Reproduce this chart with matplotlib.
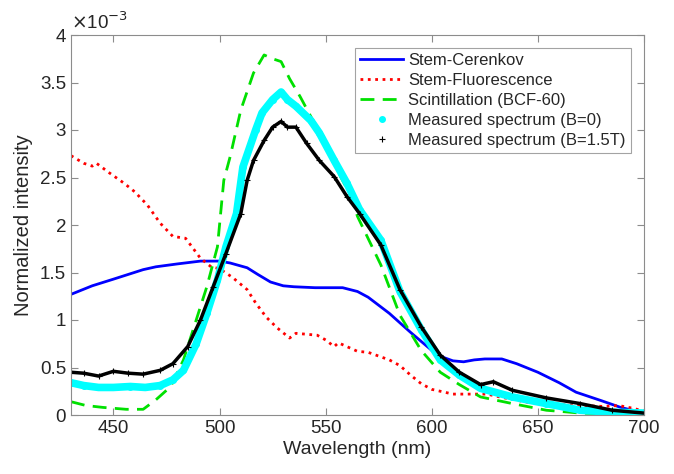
import numpy as np
import matplotlib
matplotlib.use('Agg')
from matplotlib import pyplot as plt
from matplotlib.ticker import FuncFormatter

# values in units of 1e-3
cer_nm = [430, 440, 450, 464, 470, 480, 491, 500, 505, 513, 518, 524, 530, 535, 545, 558,
          565, 570, 580, 590, 600, 605, 610, 615, 620, 625, 633, 640, 650, 660, 668, 680, 689, 700]
cer_val = [1.27, 1.36, 1.43, 1.53, 1.56, 1.59, 1.62, 1.62, 1.60, 1.55, 1.48, 1.40, 1.36, 1.35, 1.34, 1.34,
           1.30, 1.24, 1.07, 0.87, 0.68, 0.61, 0.57, 0.56, 0.58, 0.59, 0.59, 0.54, 0.45, 0.34, 0.24, 0.15, 0.08, 0.02]

flu_nm = [430, 436, 440, 442, 448, 455, 460, 466, 472, 478, 484, 491, 496, 500, 506, 513, 517, 522, 527,
          533, 536, 546, 550, 554, 556, 565, 570, 575, 580, 585, 590, 595, 600, 610, 618, 626, 632,
          646, 660, 670, 681, 688, 695, 700]
flu_val = [2.73, 2.65, 2.62, 2.65, 2.55, 2.44, 2.35, 2.21, 2.02, 1.88, 1.86, 1.65, 1.56, 1.54, 1.45, 1.32, 1.18,
           1.03, 0.92, 0.81, 0.86, 0.84, 0.79, 0.72, 0.76, 0.67, 0.66, 0.62, 0.58, 0.52, 0.42, 0.33, 0.27,
           0.22, 0.22, 0.22, 0.19, 0.13, 0.11, 0.10, 0.09, 0.10, 0.07, 0.04]

sci_nm = [430, 437, 445, 456, 464, 470, 477, 483, 489, 494, 499, 502, 505, 510, 516, 521, 525, 529,
          533, 538, 544, 549, 552, 557, 562, 565, 576, 585, 595, 604, 613, 623, 638, 654, 670, 685, 700]
sci_val = [0.14, 0.10, 0.08, 0.06, 0.06, 0.16, 0.30, 0.58, 1.00, 1.35, 1.77, 2.47, 2.72, 3.21, 3.60, 3.79,
           3.75, 3.72, 3.54, 3.35, 3.10, 2.93, 2.76, 2.51, 2.30, 2.09, 1.58, 1.05, 0.68, 0.45, 0.32, 0.19,
           0.12, 0.05, 0.02, 0.01, 0.00]

b0_nm = [430, 436, 443, 450, 458, 465, 472, 478, 483, 489, 494, 499, 503, 508, 511, 517, 520, 525,
         529, 532, 536, 543, 547, 554, 560, 566, 576, 585, 595, 604, 613, 623, 638, 654, 670, 685, 700]
b0_val = [0.34, 0.31, 0.29, 0.29, 0.30, 0.29, 0.31, 0.37, 0.47, 0.75, 1.07, 1.42, 1.77, 2.12, 2.61, 3.00,
          3.18, 3.32, 3.40, 3.32, 3.25, 3.10, 2.97, 2.68, 2.44, 2.16, 1.84, 1.30, 0.90, 0.58, 0.42, 0.28,
          0.19, 0.12, 0.05, 0.03, 0.02]

b15_nm = [430, 436, 443, 450, 457, 464, 472, 478, 485, 491, 497, 503, 510, 513, 516, 521, 525, 529,
          532, 536, 541, 547, 554, 560, 566, 576, 585, 595, 604, 613, 623, 629, 638, 654, 670, 685, 700]
b15_val = [0.45, 0.44, 0.41, 0.46, 0.44, 0.43, 0.47, 0.54, 0.72, 1.00, 1.35, 1.70, 2.12, 2.47, 2.68, 2.89,
           3.03, 3.09, 3.03, 3.03, 2.86, 2.68, 2.51, 2.30, 2.12, 1.79, 1.32, 0.93, 0.63, 0.45, 0.32, 0.35,
           0.26, 0.18, 0.12, 0.05, 0.02]

plt.rcParams['font.family'] = ['Liberation Sans', 'DejaVu Sans']
txt = '#262626'
spine = '#8c8c8c'

fig = plt.figure(figsize=(6.74, 4.74), dpi=100)
ax = fig.add_axes([71/674, 1-415/474, 573/674, 380/474])

ax.plot(cer_nm, cer_val, '-', color='#0000ff', lw=2, label='Stem-Cerenkov')
ax.plot(flu_nm, flu_val, ':', color='#ff0000', lw=2, label='Stem-Fluorescence')
ax.plot(sci_nm, sci_val, '--', color='#00e000', lw=2, dashes=(5, 3), label='Scintillation (BCF-60)')
ax.plot(b0_nm, b0_val, '-', color='#00ffff', lw=5.5, solid_capstyle='round')
ax.plot(b0_nm, b0_val, 'o', color='#00ffff', ms=4, linestyle='none', label='Measured spectrum (B=0)')
ax.plot(b15_nm, b15_val, '-', color='black', lw=2.5)
ax.plot(b15_nm, b15_val, '+', color='black', ms=5, mew=0.8, linestyle='none',
        label='Measured spectrum (B=1.5T)')

ax.set_xlim(430, 700)
ax.set_ylim(0, 4)
ax.set_xticks(np.arange(450, 701, 50))
ax.set_yticks(np.arange(0, 4.01, 0.5))
ax.yaxis.set_major_formatter(FuncFormatter(lambda v, p: '%g' % v))
ax.tick_params(direction='in', length=5, width=0.8, colors=spine, labelcolor=txt,
               labelsize=13.5, top=True, right=True)
for s in ax.spines.values():
    s.set_color(spine)
    s.set_linewidth(0.8)

ax.set_xlabel('Wavelength (nm)', fontsize=14, color=txt, labelpad=3)
ax.set_ylabel('Normalized intensity', fontsize=14.5, color=txt, labelpad=5)
ax.text(0.0, 1.005, r'$\times$10$^{-3}$', transform=ax.transAxes, fontsize=13.5,
        color=txt, ha='left', va='bottom')

leg = ax.legend(loc='upper right', bbox_to_anchor=(0.977, 0.966), borderaxespad=0,
                fontsize=12, frameon=True, fancybox=False, edgecolor=spine,
                handlelength=2.6, handletextpad=0.3, labelspacing=0.3, borderpad=0.3)
leg.get_frame().set_linewidth(0.8)
for t in leg.get_texts():
    t.set_color(txt)

plt.savefig('out.png', dpi=100)
